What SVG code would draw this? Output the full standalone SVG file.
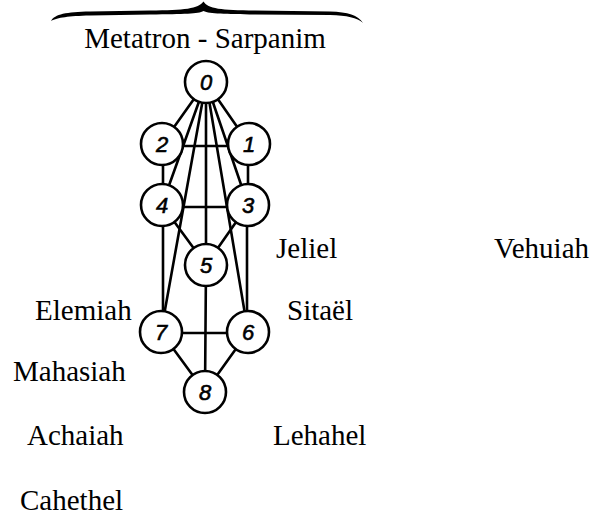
<svg xmlns="http://www.w3.org/2000/svg" width="594" height="517" viewBox="0 0 594 517">
<style>
.lbl{font-family:"Liberation Serif","Times New Roman",serif;font-size:29px;fill:#000}
.num{font-family:"Liberation Sans",Arial,sans-serif;font-style:italic;font-size:22px;fill:#000;stroke:#000;stroke-width:0.6;text-anchor:middle}
.node circle{fill:#fff;stroke:#000;stroke-width:2.6}
#connectors line{stroke:#000;stroke-width:2.6;stroke-linecap:round}
</style>
<rect width="594" height="517" fill="#fff"/>
<path id="brace" d="M51,21 C55,14 66,12 90,11.5 L150,10.5 C185,10 198,9 203.5,1.5 C208,9 221,10 255,10.5 L330,11.5 C348,12 358,15 363,23 C357,17.5 347,15.5 330,15 L255,14.5 C225,14 210,14 203.5,11 C198,14 185,14 150,14.5 L90,15.5 C68,16 58,17.5 51,21 Z" fill="#000"/>
<text class="lbl" x="205" y="48" text-anchor="middle">Metatron - Sarpanim</text>
<g id="connectors">
<line x1="206" y1="82" x2="162" y2="144"/>
<line x1="206" y1="82" x2="162" y2="205"/>
<line x1="206" y1="82" x2="161" y2="332"/>
<line x1="206" y1="82" x2="206" y2="265"/>
<line x1="206" y1="82" x2="248" y2="332"/>
<line x1="206" y1="82" x2="248" y2="205"/>
<line x1="206" y1="82" x2="249" y2="144"/>
<line x1="162" y1="146" x2="249" y2="146"/>
<line x1="163" y1="144" x2="163" y2="205"/>
<line x1="248" y1="144" x2="248" y2="205"/>
<line x1="162" y1="207" x2="248" y2="207"/>
<line x1="162" y1="205" x2="206" y2="265"/>
<line x1="248" y1="205" x2="206" y2="265"/>
<line x1="163" y1="205" x2="163" y2="332"/>
<line x1="247" y1="205" x2="247" y2="332"/>
<line x1="206" y1="265" x2="205" y2="392"/>
<line x1="161" y1="333" x2="248" y2="333"/>
<line x1="161" y1="332" x2="205" y2="392"/>
<line x1="248" y1="332" x2="205" y2="392"/>
</g>
<g id="n0" class="node"><circle cx="206" cy="82" r="21"/><text class="num" x="206" y="90">0</text></g>
<g id="n1" class="node"><circle cx="249" cy="144" r="21"/><text class="num" x="249" y="152">1</text></g>
<g id="n2" class="node"><circle cx="162" cy="144" r="21"/><text class="num" x="162" y="152">2</text></g>
<g id="n3" class="node"><circle cx="248" cy="205" r="21"/><text class="num" x="248" y="213">3</text></g>
<g id="n4" class="node"><circle cx="162" cy="205" r="21"/><text class="num" x="162" y="213">4</text></g>
<g id="n5" class="node"><circle cx="206" cy="265" r="21"/><text class="num" x="206" y="273">5</text></g>
<g id="n6" class="node"><circle cx="248" cy="332" r="21"/><text class="num" x="248" y="340">6</text></g>
<g id="n7" class="node"><circle cx="161" cy="332" r="21"/><text class="num" x="161" y="340">7</text></g>
<g id="n8" class="node"><circle cx="205" cy="392" r="21"/><text class="num" x="205" y="400">8</text></g>
<g id="labels">
<text class="lbl" x="276" y="258">Jeliel</text>
<text class="lbl" x="494" y="258">Vehuiah</text>
<text class="lbl" x="35" y="320">Elemiah</text>
<text class="lbl" x="287" y="320">Sitaël</text>
<text class="lbl" x="13" y="381">Mahasiah</text>
<text class="lbl" x="27" y="445">Achaiah</text>
<text class="lbl" x="273" y="445">Lehahel</text>
<text class="lbl" x="20" y="510">Cahethel</text>
</g>
</svg>
